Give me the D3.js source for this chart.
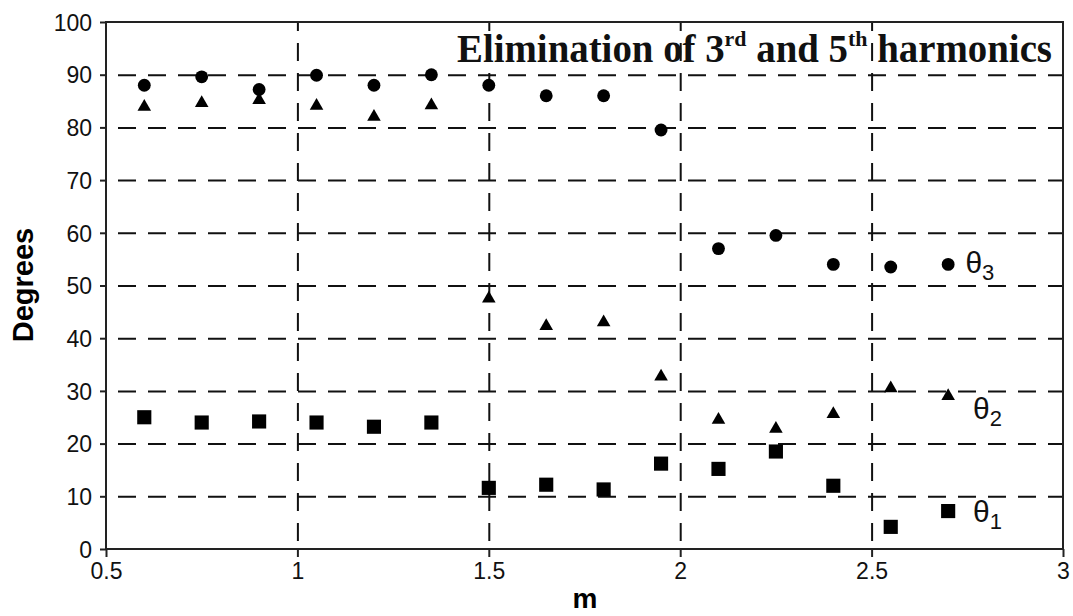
<!DOCTYPE html>
<meta charset="utf-8">
<html>
  <head>
    <title>Elimination of 3rd and 5th harmonics</title>
    <script src="https://d3js.org/d3.v7.min.js"></script>
    <style>
      body { margin: 0; background: #fff; }
      svg { display: block; }
      .tick text { font-family: "Liberation Sans", Arial, sans-serif; font-size: 23px; fill: #111; }
      .grid line { stroke: #111; stroke-width: 2px; stroke-dasharray: 18,12; }
      .grid path { display: none; }
    </style>
  </head>
  <body>
    <div id="chart"></div>
    <script>
      // m values (modulation index)
      var mValues = [0.6, 0.75, 0.9, 1.05, 1.2, 1.35, 1.5, 1.65, 1.8, 1.95, 2.1, 2.25, 2.4, 2.55, 2.7];
      // switching angles in degrees
      var theta3 = [88, 89.6, 87.2, 89.9, 88, 90, 88, 86, 86, 79.5, 57, 59.5, 54, 53.5, 54];
      var theta2 = [83.9, 84.6, 85.2, 84.1, 82, 84.2, 47.5, 42.3, 43, 32.7, 24.5, 22.8, 25.6, 30.5, 29];
      var theta1 = [25, 24, 24.2, 24, 23.2, 24, 11.6, 12.2, 11.3, 16.2, 15.2, 18.5, 12, 4.2, 7.2];

      var xTicks = [0.5, 1, 1.5, 2, 2.5, 3];
      var yTicks = [0, 10, 20, 30, 40, 50, 60, 70, 80, 90, 100];

      var width = 1073, height = 616;
      var plotL = 106, plotR = 1063, plotT = 22, plotB = 549;

      var svg = d3.select("#chart").append("svg")
          .attr("width", width)
          .attr("height", height);

      var x = d3.scaleLinear().domain([0.5, 3]).range([plotL, plotR]);
      var y = d3.scaleLinear().domain([0, 100]).range([plotB, plotT]);

      // dashed grid lines (not on the frame)
      svg.append("g")
          .attr("class", "grid")
          .attr("transform", "translate(" + plotL + ",0)")
          .call(d3.axisLeft(y).tickValues(yTicks.filter(function(d){ return d > 0 && d < 100; }))
              .tickSize(-(plotR - plotL)).tickFormat(""))
          .selectAll("line").style("stroke-dashoffset", -12);

      svg.append("g")
          .attr("class", "grid")
          .attr("transform", "translate(0," + plotB + ")")
          .call(d3.axisBottom(x).tickValues(xTicks.filter(function(d){ return d > 0.5 && d < 3; }))
              .tickSize(-(plotB - plotT)).tickFormat(""))
          .selectAll("line").style("stroke-dashoffset", -8);

      // frame
      svg.append("rect")
          .attr("x", plotL).attr("y", plotT)
          .attr("width", plotR - plotL).attr("height", plotB - plotT)
          .attr("fill", "none").attr("stroke", "#222").attr("stroke-width", 2);

      // axes
      var yAxis = svg.append("g")
          .attr("transform", "translate(" + plotL + ",0)")
          .call(d3.axisLeft(y).tickValues(yTicks).tickSize(6).tickPadding(8).tickFormat(d3.format("d")));
      var xAxis = svg.append("g")
          .attr("transform", "translate(0," + plotB + ")")
          .call(d3.axisBottom(x).tickValues(xTicks).tickSize(8).tickPadding(6).tickFormat(function(d){ return String(d); }));
      [yAxis, xAxis].forEach(function(a) {
        a.select(".domain").remove();
        a.selectAll(".tick line").attr("stroke", "#222").attr("stroke-width", 2);
      });
      yAxis.selectAll(".tick text").attr("dy", "0.36em");

      // markers
      var series = [
        { values: theta3, type: d3.symbolCircle, size: 130 },
        { values: theta2, type: d3.symbolTriangle, size: 80 },
        { values: theta1, type: d3.symbolSquare, size: 200 }
      ];
      series.forEach(function(s) {
        svg.append("g").selectAll("path")
            .data(s.values)
            .join("path")
            .attr("transform", function(d, i) { return "translate(" + x(mValues[i]) + "," + y(d) + ")"; })
            .attr("d", d3.symbol().type(s.type).size(s.size))
            .attr("fill", "#000");
      });

      // series labels
      var labels = [
        { sub: "3", m: 2.745, v: 52.3 },
        { sub: "2", m: 2.765, v: 24.6 },
        { sub: "1", m: 2.765, v: 5.2 }
      ];
      labels.forEach(function(l) {
        var t = svg.append("text")
            .attr("x", x(l.m)).attr("y", y(l.v))
            .style("font-family", "'Liberation Sans', Arial, sans-serif")
            .style("font-size", "30px")
            .attr("fill", "#111");
        t.append("tspan").text("\u03B8");
        t.append("tspan").attr("dy", 7).style("font-size", "22px").text(l.sub);
      });

      // title
      var title = svg.append("text")
          .attr("x", 457).attr("y", 61.5)
          .attr("textLength", 595)
          .attr("lengthAdjust", "spacingAndGlyphs")
          .style("font-family", "'Liberation Serif', 'Times New Roman', serif")
          .style("font-weight", "bold")
          .style("font-size", "39px")
          .attr("fill", "#111");
      title.append("tspan").text("Elimination of 3");
      title.append("tspan").attr("dy", -16).style("font-size", "22px").text("rd");
      title.append("tspan").attr("dy", 16).text(" and 5");
      title.append("tspan").attr("dy", -16).style("font-size", "22px").text("th");
      title.append("tspan").attr("dy", 16).text(" harmonics");

      // axis titles
      svg.append("text")
          .attr("transform", "translate(33,285) rotate(-90)")
          .attr("text-anchor", "middle")
          .style("font-family", "'Liberation Sans', Arial, sans-serif")
          .style("font-weight", "bold")
          .style("font-size", "29px")
          .text("Degrees");
      svg.append("text")
          .attr("x", 585).attr("y", 608)
          .attr("text-anchor", "middle")
          .style("font-family", "'Liberation Sans', Arial, sans-serif")
          .style("font-weight", "bold")
          .style("font-size", "28px")
          .text("m");
    </script>
  </body>
</html>
